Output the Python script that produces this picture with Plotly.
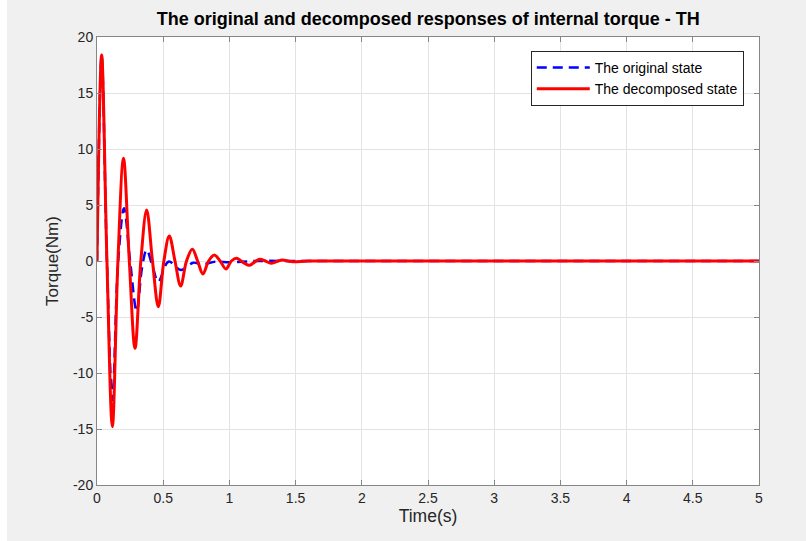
import plotly.graph_objects as go

# Time (s) and torque (Nm)
t_orig = [0.0, 0.035, 0.075, 0.116, 0.16, 0.204, 0.25, 0.30, 0.34, 0.375, 0.42,
          0.463, 0.54, 0.634, 0.727, 0.79, 0.9, 1.0, 1.2, 1.5, 2.0, 3.0, 4.0, 5.0]
y_orig = [0.0, 18.3, 0.0, -12.4, 0.0, 4.7, 0.0, -4.5, -0.6, 1.0, -0.5,
          -1.85, -0.06, -0.8, -0.15, -0.3, -0.05, -0.12, 0.0, 0.0, 0.0, 0.0, 0.0, 0.0]

t_dec = [0.0, 0.035, 0.075, 0.116, 0.158, 0.20, 0.244, 0.287, 0.331, 0.375, 0.419,
         0.463, 0.505, 0.546, 0.589, 0.632, 0.676, 0.72, 0.76, 0.80, 0.843, 0.886,
         0.93, 0.974, 1.015, 1.055, 1.10, 1.148, 1.19, 1.23, 1.272, 1.314, 1.357,
         1.40, 1.44, 1.48, 1.6, 2.0, 3.0, 4.0, 5.0]
y_dec = [0.0, 18.4, 0.0, -14.8, 0.0, 9.17, 0.0, -7.8, 0.0, 4.55, 0.0,
         -4.08, 0.0, 2.23, 0.0, -2.23, 0.0, 1.04, 0.0, -1.16, 0.0, 0.54,
         0.0, -0.71, 0.0, 0.24, -0.1, -0.39, -0.1, 0.15, 0.0, -0.2, -0.05,
         0.09, 0.0, -0.06, 0.0, 0.0, 0.0, 0.0, 0.0]

x_ticks = [0, 0.5, 1, 1.5, 2, 2.5, 3, 3.5, 4, 4.5, 5]
x_tick_text = ["0", "0.5", "1", "1.5", "2", "2.5", "3", "3.5", "4", "4.5", "5"]
y_ticks = [-20, -15, -10, -5, 0, 5, 10, 15, 20]
y_tick_text = ["-20", "-15", "-10", "-5", "0", "5", "10", "15", "20"]

title_text = "The original and decomposed responses of internal torque - TH"
series_names = ["The original state", "The decomposed state"]

FONT = "Liberation Sans, Arial, Helvetica, sans-serif"
AXIS_COL = "#868686"
TXT_COL = "#262626"

fig = go.Figure()
fig.add_trace(go.Scatter(
    x=t_orig, y=y_orig, mode="lines", name=series_names[0],
    line=dict(color="#0000ff", width=2.5, dash="10px,6px", shape="spline", smoothing=1.0),
))
fig.add_trace(go.Scatter(
    x=t_dec, y=y_dec, mode="lines", name=series_names[1],
    line=dict(color="#ff0000", width=3, shape="spline", smoothing=1.0),
))

axis_common = dict(
    showline=True, linecolor=AXIS_COL, linewidth=1, mirror="ticks",
    ticks="inside", ticklen=5, tickcolor=AXIS_COL, tickwidth=1,
    showgrid=True, gridcolor="#e3e3e3", gridwidth=1, zeroline=False,
    tickfont=dict(family=FONT, size=14, color=TXT_COL),
)

fig.update_layout(
    width=806, height=541,
    margin=dict(l=97, r=47, t=37, b=56),
    paper_bgcolor="#f0f0f0", plot_bgcolor="#ffffff",
    title=dict(text="<b>" + title_text + "</b>", x=0.5313, xanchor="center",
               y=0.965, yanchor="middle",
               font=dict(family=FONT, size=18, color="#000000")),
    xaxis=dict(range=[0, 5], tickvals=x_ticks, ticktext=x_tick_text,
               title=dict(text="Time(s)", font=dict(family=FONT, size=17.5, color=TXT_COL), standoff=3),
               **axis_common),
    yaxis=dict(range=[-20, 20], tickvals=y_ticks, ticktext=y_tick_text,
               title=dict(text="Torque(Nm)", font=dict(family=FONT, size=17, color=TXT_COL), standoff=10),
               **axis_common),
    legend=dict(x=0.977, xanchor="right", y=0.969, yanchor="top",
                bgcolor="#ffffff", bordercolor="#262626", borderwidth=1,
                font=dict(family=FONT, size=14, color="#000000"),
                tracegroupgap=0, itemwidth=53),
    showlegend=True,
)

# thin white border at the left edge of the picture
fig.add_shape(type="rect", xref="paper", yref="paper",
              x0=-97/662, x1=-90/662, y0=-56/448, y1=(541-56)/448,
              fillcolor="#ffffff", line=dict(width=0), layer="below")

fig.write_html("out.html")
